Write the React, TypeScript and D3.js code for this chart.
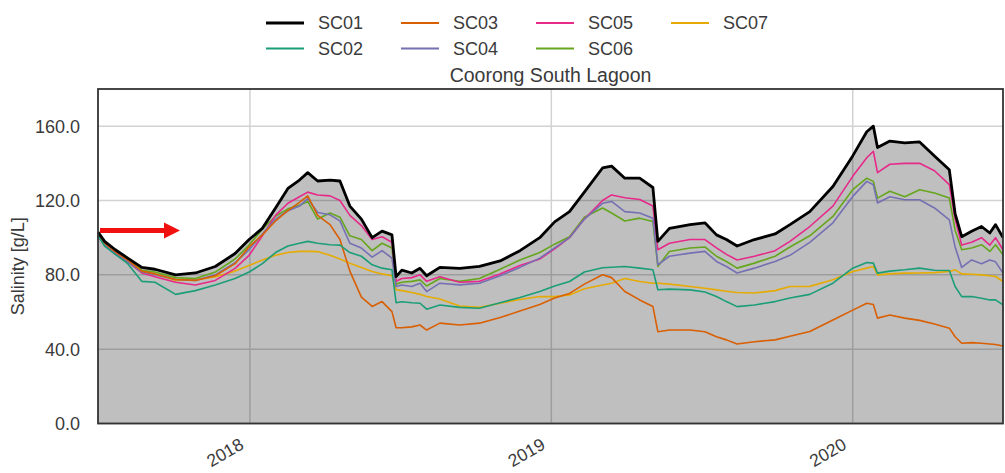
import React, { useEffect, useRef } from 'react'
import * as d3 from 'd3'

// sample dates (irregular, denser around the sudden drops)
const dates = [
  '2017-07-01', '2017-07-09', '2017-07-22', '2017-08-06', '2017-08-23', '2017-09-08', '2017-10-03', '2017-10-27', '2017-11-20', '2017-12-14',
  '2017-12-31', '2018-01-16', '2018-02-01', '2018-02-16', '2018-03-02', '2018-03-12', '2018-03-24', '2018-04-08', '2018-04-20', '2018-05-02',
  '2018-05-16', '2018-05-29', '2018-06-10', '2018-06-22', '2018-06-27', '2018-07-04', '2018-07-16', '2018-07-26', '2018-08-03', '2018-08-19',
  '2018-09-12', '2018-10-06', '2018-10-31', '2018-11-24', '2018-12-18', '2019-01-05', '2019-01-23', '2019-02-10', '2019-03-04', '2019-03-15',
  '2019-03-31', '2019-04-18', '2019-05-04', '2019-05-10', '2019-05-24', '2019-06-18', '2019-07-06', '2019-07-20', '2019-08-01', '2019-08-14',
  '2019-09-04', '2019-09-29', '2019-10-17', '2019-11-10', '2019-12-08', '2020-01-01', '2020-01-18', '2020-01-26', '2020-01-31', '2020-02-15',
  '2020-03-04', '2020-03-22', '2020-04-09', '2020-04-27', '2020-05-04', '2020-05-12', '2020-05-24', '2020-06-05', '2020-06-15', '2020-06-22',
  '2020-07-01',
]

const sc01 = [
  103, 98, 93.5, 89, 84, 83, 80, 81, 84.5, 91.5,
  99, 105, 116, 126.5, 131, 135, 130.5, 131, 130.5, 117,
  110, 100, 103.5, 101.5, 79, 82.5, 81, 83.5, 79.5, 84,
  83.5, 84.5, 87.5, 93, 100, 108.5, 114, 124.5, 137.5, 138.5,
  132, 132, 127, 98, 105, 107, 108, 101.5, 99, 95.5,
  99, 102, 107, 114, 127.5, 144, 157, 160, 148.5, 152,
  151, 151.5, 144, 136.5, 113, 100.5, 103.5, 106, 102.5, 107, 100,
]
const sc02 = [
  101, 95.5, 91, 86, 76.5, 76, 69.5, 71.5, 74.5, 78,
  81.5, 86, 92, 95.5, 97, 98, 97, 96.2, 96, 92,
  90, 85.4, 83.6, 82.7, 65, 65.5, 65, 64.7, 61.5, 63.8,
  62.5, 62, 65, 67.8, 71, 74, 76.4, 81.5, 83.8, 84.1,
  84.5, 83.6, 82.7, 72, 72.3, 71.9, 70.8, 68.3, 65.6, 62.9,
  63.8, 65.6, 67.5, 69.5, 75.5, 83.6, 86.6, 86.3, 80.9, 82,
  82.7, 83.6, 82.5, 82.3, 73.7, 68.3, 68.3, 67.4, 66.5, 66.5, 63.8,
]
const sc03 = [
  102, 97, 92.5, 88, 82, 80.5, 77.5, 77, 79.5, 86,
  95, 101.5, 109, 114.5, 119, 122.5, 112, 107, 99, 82,
  68, 63, 65.6, 60.2, 51.5, 51.5, 52, 53, 50.3, 54,
  53, 54, 57, 60.5, 64, 67.5, 70, 75, 80, 78.5,
  71, 66.5, 63, 49.4, 50.3, 50.3, 49.4, 46.7, 45, 42.8,
  44, 45, 47, 49.5, 55.7, 61, 64.7, 64, 56.7, 58.4,
  56.7, 55.5, 53.5, 51.3, 46.7, 43.2, 43.5, 43.2, 42.8, 42.5, 41.7,
]
const sc04 = [
  101, 96, 91, 87, 81.5, 80, 77.5, 77, 80, 86.5,
  93.5, 102, 110, 114.5, 117, 121, 113.5, 112.3, 109, 97,
  94.4, 89.5, 93, 89, 73.7, 74.5, 73.7, 75.5, 71, 75.5,
  74.6, 75.5, 79.5, 84, 89, 94.5, 100, 110, 118.5, 119.5,
  114, 113.3, 110.5, 85.4, 90, 91.7, 92.6, 87.2, 84.5, 81,
  83.6, 87.2, 90.5, 97.5, 108, 122.2, 130.3, 128.5, 118.7, 122,
  120.4, 120.4, 116, 109.6, 95, 84, 88, 86, 88, 87, 80.9,
]
const sc05 = [
  101, 96, 91.5, 87, 81, 79, 76, 74.5, 77, 83.5,
  90.5, 101, 112, 118.5, 122, 124.5, 123, 122.5, 120, 112,
  106.5, 99, 100.5, 97.5, 76.5, 78, 78.5, 80, 76.5, 79,
  76, 76.5, 80.5, 85, 88.5, 94, 100, 110, 120, 123,
  121.5, 120.5, 117, 93.5, 97, 99, 99, 94.5, 91, 88,
  90, 93, 98, 106, 117, 133, 143, 146.5, 135, 139.5,
  140, 140, 136, 128.5, 110, 96, 97.5, 100, 96, 100, 93.5,
]
const sc06 = [
  102, 96.5, 92, 88, 82.5, 81.5, 78.5, 78, 81.5, 88.5,
  96, 104.5, 111.5, 115.5, 117.5, 119.5, 110, 113.3, 111, 101,
  99, 93, 97, 94.4, 75, 76, 76.5, 77.3, 74, 78,
  76.5, 78, 83, 88, 92, 96.5, 100.5, 111, 116, 113.3,
  109, 110.5, 108.7, 84.5, 92.6, 94.4, 95, 90, 87.2, 83.6,
  86.3, 90, 95, 101, 111.4, 125.8, 132, 130.3, 121.3, 125,
  122, 125.8, 124, 121.3, 104, 93.5, 94.4, 96.2, 92.6, 96.2, 90.8,
]
const sc07 = [
  102, 97, 92, 87.5, 82, 80.5, 77, 77.3, 79, 82,
  85, 88, 90.5, 92, 92.6, 92.6, 92.5, 90.5, 88.5, 86.3,
  84, 81.8, 80.5, 79.5, 72, 71.5, 70.5, 69.5, 68.3, 67,
  63.2, 62.5, 64.7, 66.7, 68.3, 68.3, 69.2, 72.5, 74.5, 75.5,
  78, 76.4, 75.5, 75.5, 75, 73.7, 72.8, 71.9, 71.2, 70.5,
  70.2, 71.5, 73.7, 73.8, 77.3, 81.8, 83.6, 84.5, 80, 80.5,
  80.9, 81, 81.2, 81.8, 82.7, 80.5, 80.3, 80, 79.5, 79.1, 76.4,
]

const seriesNames = ['SC01', 'SC02', 'SC03', 'SC04', 'SC05', 'SC06', 'SC07']
const seriesValues = [sc01, sc02, sc03, sc04, sc05, sc06, sc07]
const seriesColors = ['#000000', '#1b9e77', '#d95f02', '#7570b3', '#e7298a', '#66a61e', '#e6ab02']
const yTicks = [0, 40, 80, 120, 160]
const xTickYears = [2018, 2019, 2020]

const FONT = '"Liberation Sans", Arial, sans-serif'

export default function App() {
  const svgRef = useRef(null)

  useEffect(() => {
    const svg = d3.select(svgRef.current)
    svg.selectAll('*').remove()

    const left = 98
    const right = 1003
    const top = 89
    const bottom = 423.5

    const parse = d3.timeParse('%Y-%m-%d')
    const t = dates.map((d) => parse(d))

    const x = d3
      .scaleTime()
      .domain([new Date(2017, 6, 1), new Date(2020, 6, 1)])
      .range([left, right])
    const y = d3.scaleLinear().domain([0, 180]).range([bottom, top])

    // gridlines (under the translucent fill)
    const grid = svg.append('g')
    grid
      .selectAll('.hgrid')
      .data(yTicks)
      .enter()
      .append('line')
      .attr('x1', left)
      .attr('x2', right)
      .attr('y1', (d) => y(d))
      .attr('y2', (d) => y(d))
      .attr('stroke', '#d2d2d2')
      .attr('stroke-width', 1.5)
    grid
      .selectAll('.vgrid')
      .data(xTickYears)
      .enter()
      .append('line')
      .attr('x1', (d) => x(new Date(d, 0, 1)))
      .attr('x2', (d) => x(new Date(d, 0, 1)))
      .attr('y1', top)
      .attr('y2', bottom)
      .attr('stroke', '#d2d2d2')
      .attr('stroke-width', 1.5)

    // area under SC01
    const area = d3
      .area()
      .x((d, i) => x(t[i]))
      .y0(y(0))
      .y1((d) => y(d))
    svg
      .append('path')
      .datum(sc01)
      .attr('d', area)
      .attr('fill', '#000')
      .attr('fill-opacity', 0.25)

    const line = d3
      .line()
      .x((d, i) => x(t[i]))
      .y((d) => y(d))

    // coloured series first, black on top
    for (let s = seriesValues.length - 1; s >= 0; s--) {
      svg
        .append('path')
        .datum(seriesValues[s])
        .attr('d', line)
        .attr('fill', 'none')
        .attr('stroke', seriesColors[s])
        .attr('stroke-width', s === 0 ? 2.8 : 1.6)
        .attr('stroke-linejoin', 'round')
    }

    // frame
    svg
      .append('rect')
      .attr('x', left)
      .attr('y', top)
      .attr('width', right - left)
      .attr('height', bottom - top)
      .attr('fill', 'none')
      .attr('stroke', '#333')
      .attr('stroke-width', 1.8)

    // y tick labels
    svg
      .selectAll('.ytick')
      .data(yTicks)
      .enter()
      .append('text')
      .attr('x', left - 18)
      .attr('y', (d) => y(d))
      .attr('dy', '0.36em')
      .attr('text-anchor', 'end')
      .attr('font-family', FONT)
      .attr('font-size', 18)
      .attr('fill', '#3a3a3a')
      .text((d) => d3.format('.1f')(d))

    // x tick labels, rotated
    svg
      .selectAll('.xtick')
      .data(xTickYears)
      .enter()
      .append('text')
      .attr('transform', (d) => `translate(${x(new Date(d, 0, 1)) - 5},448) rotate(-30)`)
      .attr('text-anchor', 'end')
      .attr('font-family', FONT)
      .attr('font-size', 17.5)
      .attr('fill', '#3a3a3a')
      .text((d) => d)

    // y axis label
    svg
      .append('text')
      .attr('transform', `translate(24,${(top + bottom) / 2 + 10}) rotate(-90)`)
      .attr('text-anchor', 'middle')
      .attr('font-family', FONT)
      .attr('font-size', 18)
      .attr('fill', '#3a3a3a')
      .text('Salinity [g/L]')

    // title
    svg
      .append('text')
      .attr('x', (left + right) / 2)
      .attr('y', 82)
      .attr('text-anchor', 'middle')
      .attr('font-family', FONT)
      .attr('font-size', 19.5)
      .attr('fill', '#3a3a3a')
      .text('Coorong South Lagoon')

    // legend: 4 columns, column-major order
    const legend = svg.append('g')
    seriesNames.forEach((name, i) => {
      const col = Math.floor(i / 2)
      const row = i % 2
      const lx = 266 + col * 135
      const ly = 23 + row * 25.5
      legend
        .append('line')
        .attr('x1', lx)
        .attr('x2', lx + 38)
        .attr('y1', ly)
        .attr('y2', ly)
        .attr('stroke', seriesColors[i])
        .attr('stroke-width', i === 0 ? 2.8 : 1.8)
      legend
        .append('text')
        .attr('x', lx + 52)
        .attr('y', ly)
        .attr('dy', '0.36em')
        .attr('font-family', FONT)
        .attr('font-size', 18)
        .attr('fill', '#3a3a3a')
        .text(name)
    })

    // red annotation arrow
    const ax = x(t[0]) + 2
    const ay = y(103.8)
    svg
      .append('path')
      .attr(
        'd',
        `M${ax},${ay - 2.5} L${ax + 64},${ay - 2.5} L${ax + 64},${ay - 8} L${ax + 80},${ay} L${ax + 64},${ay + 8} L${ax + 64},${ay + 2.5} L${ax},${ay + 2.5} Z`
      )
      .attr('fill', '#f01010')
  }, [])

  return (
    <svg
      ref={svgRef}
      width={1005}
      height={473}
      style={{ position: 'absolute', left: 0, top: 0, background: '#fff' }}
    ></svg>
  )
}
